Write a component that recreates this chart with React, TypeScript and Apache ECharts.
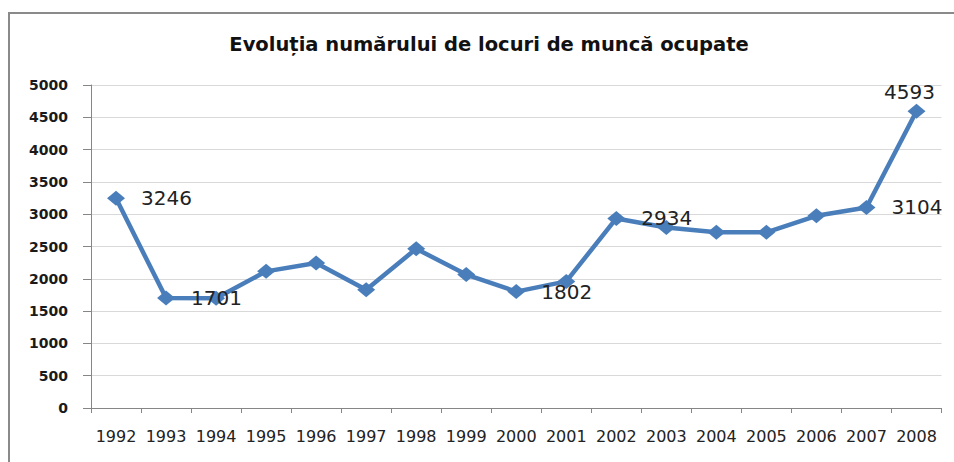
import React, { useEffect, useRef } from "react";
import * as echarts from "echarts";

const titleText = "Evoluția numărului de locuri de muncă ocupate";
const years = ["1992","1993","1994","1995","1996","1997","1998","1999","2000","2001","2002","2003","2004","2005","2006","2007","2008"];
const values = [3246, 1701, 1700, 2115, 2245, 1830, 2465, 2065, 1802, 1960, 2934, 2795, 2720, 2720, 2975, 3104, 4593];
// which points carry a visible value label, and where
const labelRight = ["1992", "1993", "2000", "2002", "2007"];
const labelTop = ["2008"];
const yTicks = { min: 0, max: 5000, interval: 500 };

export default function App() {
  const ref = useRef<HTMLDivElement>(null);
  useEffect(() => {
    if (!ref.current) return;
    const chart = echarts.init(ref.current, undefined, { renderer: "svg" });
    const data = values.map((v, i) => {
      const y = years[i];
      if (labelRight.includes(y)) {
        return { value: v, label: { show: true, position: "right", distance: 16 } };
      }
      if (labelTop.includes(y)) {
        return { value: v, label: { show: true, position: "top", distance: 2, offset: [-7, 0] } };
      }
      return { value: v };
    });
    chart.setOption({
      animation: false,
      backgroundColor: "#ffffff",
      graphic: [
        {
          type: "rect",
          shape: { x: 9, y: 13, width: 980, height: 480 },
          style: { fill: "none", stroke: "#8a8a8a", lineWidth: 2 },
          silent: true,
        },
        {
          type: "text",
          x: 489,
          y: 44,
          style: {
            text: titleText,
            align: "center",
            verticalAlign: "middle",
            fontFamily: "DejaVu Sans",
            fontWeight: "bold",
            fontSize: 19.5,
            fill: "#111111",
          },
        },
      ],
      grid: { left: 91, right: 12.5, top: 85, bottom: 54 },
      xAxis: {
        type: "category",
        data: years,
        boundaryGap: true,
        axisLine: { lineStyle: { color: "#868686", width: 1 } },
        axisTick: { show: true, length: 5, alignWithLabel: false, lineStyle: { color: "#868686" } },
        axisLabel: {
          margin: 20,
          fontFamily: "DejaVu Sans",
          fontSize: 16,
          color: "#222222",
          interval: 0,
        },
        splitLine: { show: false },
      },
      yAxis: {
        type: "value",
        min: yTicks.min,
        max: yTicks.max,
        interval: yTicks.interval,
        axisLine: { show: true, lineStyle: { color: "#868686", width: 1 } },
        axisTick: { show: true, length: 8, lineStyle: { color: "#868686" } },
        axisLabel: {
          margin: 23,
          fontFamily: "DejaVu Sans",
          fontWeight: "bold",
          fontSize: 14,
          color: "#1a1a1a",
          formatter: (v: number) => String(v),
        },
        splitLine: { show: true, lineStyle: { color: "#d9d9d9", width: 1 } },
      },
      series: [
        {
          type: "line",
          data,
          symbol: "diamond",
          symbolSize: [18, 15],
          itemStyle: { color: "#4a7ebb" },
          lineStyle: { color: "#4a7ebb", width: 4.5 },
          label: {
            show: false,
            fontFamily: "DejaVu Sans",
            fontSize: 20,
            color: "#222222",
          },
        },
      ],
    });
    return () => chart.dispose();
  }, []);
  return (
    <div
      ref={ref}
      style={{ position: "fixed", left: 0, top: 0, width: 954, height: 462 }}
    />
  );
}
